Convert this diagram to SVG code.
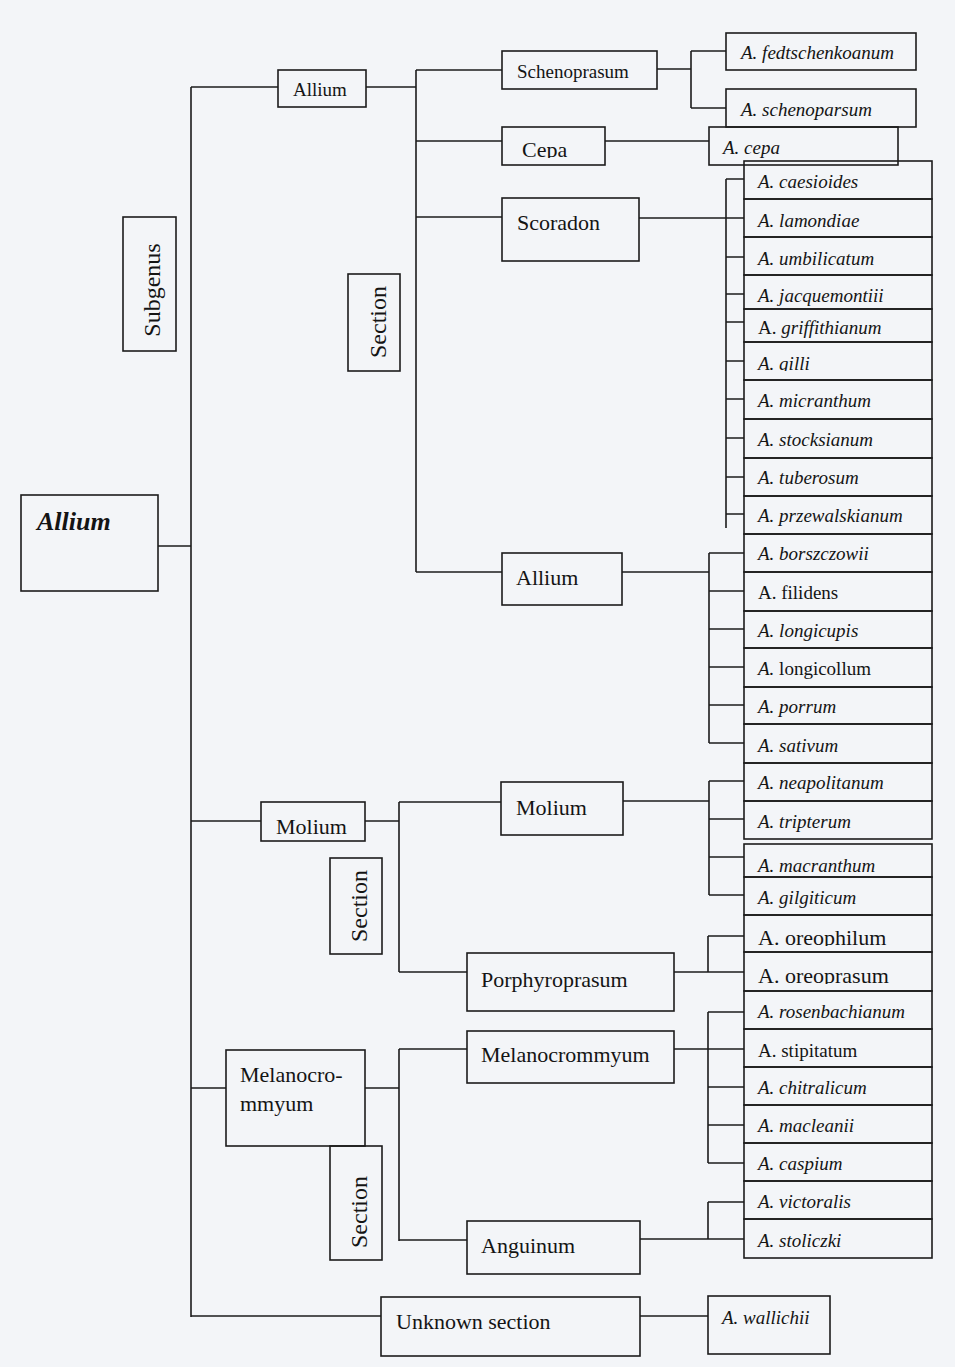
<svg xmlns="http://www.w3.org/2000/svg" width="955" height="1367" viewBox="0 0 955 1367">
<style>
.bg{fill:#f3f5f8}
.box{fill:none;stroke:#1c1c1c;stroke-width:1.6}
.ln{fill:none;stroke:#1c1c1c;stroke-width:1.6}
text{font-family:"Liberation Serif","Times New Roman",serif;fill:#141414}
.sp{font-size:19px;font-style:italic}
.rm{font-style:normal}
.big{font-size:22px}
.sm{font-size:19px}
.vt{font-size:24px;text-anchor:middle}
.root{font-size:26px;font-weight:bold;font-style:italic}
</style>
<defs>
<clipPath id="cutCepa"><rect x="502" y="127" width="103" height="31"/></clipPath>
<clipPath id="cutMolium"><rect x="261" y="802" width="104" height="32"/></clipPath>
<clipPath id="cutGilli"><rect x="744" y="342" width="188" height="29"/></clipPath>
<clipPath id="cutOreo1"><rect x="744" y="915" width="188" height="31"/></clipPath>
<clipPath id="cutOreo2"><rect x="744" y="952" width="188" height="32"/></clipPath>
</defs>
<rect class="bg" x="0" y="0" width="955" height="1367"/>

<g id="connectors">
<path class="ln" d="M158,546H191M191,87V1317M191,87H278M366,87H416M416,70V572M416,70H502M416,141H502M416,217H502M416,572H502"/>
<path class="ln" d="M657,69H691M691,51V108M691,51H726M691,108H726M605,141H709"/>
<path class="ln" d="M639,218H744M726,179V528M726,179H744M726,257H744M726,294H744M726,322H744M726,361H744M726,399H744M726,438H744M726,477H744M726,514H744"/>
<path class="ln" d="M622,572H709M709,553V743M709,553H744M709,591H744M709,629H744M709,667H744M709,705H744M709,743H744"/>
<path class="ln" d="M191,821H261M365,821H399M399,802V972M399,802H501M399,972H467"/>
<path class="ln" d="M623,801H709M709,781V895M709,781H744M709,819H744M709,857H744M709,895H744"/>
<path class="ln" d="M674,972H708M708,936V972M708,936H744M708,972H744"/>
<path class="ln" d="M191,1088H226M365,1088H399M399,1049V1241M399,1049H467M399,1240H467"/>
<path class="ln" d="M674,1049H708M708,1012V1163M708,1012H744M708,1049H744M708,1087H744M708,1125H744M708,1163H744"/>
<path class="ln" d="M640,1239H708M708,1202V1239M708,1202H744M708,1239H744"/>
<path class="ln" d="M191,1316H381M640,1316H708"/>
</g>

<g id="genus-allium"><rect class="box" x="21" y="495" width="137" height="96"/><text class="root" x="37" y="530">Allium</text></g>
<g id="label-subgenus"><rect class="box" x="123" y="217" width="53" height="134"/><text class="vt" transform="translate(160,290) rotate(-90)">Subgenus</text></g>
<g id="subgenus-allium"><rect class="box" x="278" y="70" width="88" height="37"/><text class="sm" x="293" y="96">Allium</text></g>
<g id="label-section-1"><rect class="box" x="348" y="274" width="52" height="97"/><text class="vt" transform="translate(386,322) rotate(-90)">Section</text></g>
<g id="sec-schenoprasum"><rect class="box" x="502" y="51" width="155" height="38"/><text class="sm" x="517" y="78">Schenoprasum</text></g>
<g id="sec-cepa"><rect class="box" x="502" y="127" width="103" height="38"/><text class="big" x="522" y="157" clip-path="url(#cutCepa)">Cepa</text></g>
<g id="sec-scoradon"><rect class="box" x="502" y="198" width="137" height="63"/><text class="big" x="517" y="230">Scoradon</text></g>
<g id="sec-allium"><rect class="box" x="502" y="553" width="120" height="52"/><text class="big" x="516" y="585">Allium</text></g>

<g id="sp-fedtschenkoanum"><rect class="box" x="726" y="33" width="190" height="37"/><text class="sp" x="741" y="59">A. fedtschenkoanum</text></g>
<g id="sp-schenoparsum"><rect class="box" x="726" y="89" width="190" height="38"/><text class="sp" x="741" y="116">A. schenoparsum</text></g>
<g id="sp-cepa"><rect class="box" x="709" y="127" width="189" height="38"/><text class="sp" x="723" y="154">A. cepa</text></g>

<g id="sp-caesioides"><rect class="box" x="744" y="161" width="188" height="38"/><text class="sp" x="758" y="188">A. caesioides</text></g>
<g id="sp-lamondiae"><rect class="box" x="744" y="199" width="188" height="38"/><text class="sp" x="758" y="227">A. lamondiae</text></g>
<g id="sp-umbilicatum"><rect class="box" x="744" y="237" width="188" height="38"/><text class="sp" x="758" y="265">A. umbilicatum</text></g>
<g id="sp-jacquemontiii"><rect class="box" x="744" y="275" width="188" height="34"/><text class="sp" x="758" y="302">A. jacquemontiii</text></g>
<g id="sp-griffithianum"><rect class="box" x="744" y="309" width="188" height="33"/><text class="sp" x="758" y="334"><tspan class="rm">A.</tspan> griffithianum</text></g>
<g id="sp-gilli"><rect class="box" x="744" y="342" width="188" height="38"/><text class="sp" x="758" y="370" clip-path="url(#cutGilli)">A. gilli</text></g>
<g id="sp-micranthum"><rect class="box" x="744" y="380" width="188" height="39"/><text class="sp" x="758" y="407">A. micranthum</text></g>
<g id="sp-stocksianum"><rect class="box" x="744" y="419" width="188" height="39"/><text class="sp" x="758" y="446">A. stocksianum</text></g>
<g id="sp-tuberosum"><rect class="box" x="744" y="458" width="188" height="38"/><text class="sp" x="758" y="484">A. tuberosum</text></g>
<g id="sp-przewalskianum"><rect class="box" x="744" y="496" width="188" height="38"/><text class="sp" x="758" y="522">A. przewalskianum</text></g>
<g id="sp-borszczowii"><rect class="box" x="744" y="534" width="188" height="38"/><text class="sp" x="758" y="560">A. borszczowii</text></g>
<g id="sp-filidens"><rect class="box" x="744" y="572" width="188" height="39"/><text class="sp rm" x="758" y="599">A. filidens</text></g>
<g id="sp-longicupis"><rect class="box" x="744" y="611" width="188" height="37"/><text class="sp" x="758" y="637">A. longicupis</text></g>
<g id="sp-longicollum"><rect class="box" x="744" y="648" width="188" height="39"/><text class="sp" x="758" y="675">A. <tspan class="rm">longicollum</tspan></text></g>
<g id="sp-porrum"><rect class="box" x="744" y="687" width="188" height="37"/><text class="sp" x="758" y="713">A. porrum</text></g>
<g id="sp-sativum"><rect class="box" x="744" y="724" width="188" height="39"/><text class="sp" x="758" y="752">A. sativum</text></g>
<g id="sp-neapolitanum"><rect class="box" x="744" y="763" width="188" height="38"/><text class="sp" x="758" y="789">A. neapolitanum</text></g>
<g id="sp-tripterum"><rect class="box" x="744" y="801" width="188" height="38"/><text class="sp" x="758" y="828">A. tripterum</text></g>
<g id="sp-macranthum"><rect class="box" x="744" y="844" width="188" height="33"/><text class="sp" x="758" y="872">A. macranthum</text></g>
<g id="sp-gilgiticum"><rect class="box" x="744" y="877" width="188" height="38"/><text class="sp" x="758" y="904">A. gilgiticum</text></g>
<g id="sp-oreophilum"><rect class="box" x="744" y="915" width="188" height="37"/><text class="big" x="758" y="945" clip-path="url(#cutOreo1)">A. oreophilum</text></g>
<g id="sp-oreoprasum"><rect class="box" x="744" y="952" width="188" height="39"/><text class="big" x="758" y="983" clip-path="url(#cutOreo2)">A. oreoprasum</text></g>
<g id="sp-rosenbachianum"><rect class="box" x="744" y="991" width="188" height="38"/><text class="sp" x="758" y="1018">A. rosenbachianum</text></g>
<g id="sp-stipitatum"><rect class="box" x="744" y="1029" width="188" height="38"/><text class="sp rm" x="758" y="1057">A. stipitatum</text></g>
<g id="sp-chitralicum"><rect class="box" x="744" y="1067" width="188" height="38"/><text class="sp" x="758" y="1094">A. chitralicum</text></g>
<g id="sp-macleanii"><rect class="box" x="744" y="1105" width="188" height="38"/><text class="sp" x="758" y="1132">A. macleanii</text></g>
<g id="sp-caspium"><rect class="box" x="744" y="1143" width="188" height="38"/><text class="sp" x="758" y="1170">A. caspium</text></g>
<g id="sp-victoralis"><rect class="box" x="744" y="1181" width="188" height="38"/><text class="sp" x="758" y="1208">A. victoralis</text></g>
<g id="sp-stoliczki"><rect class="box" x="744" y="1219" width="188" height="39"/><text class="sp" x="758" y="1247">A. stoliczki</text></g>

<g id="subgenus-molium"><rect class="box" x="261" y="802" width="104" height="39"/><text class="big" x="276" y="834" clip-path="url(#cutMolium)">Molium</text></g>
<g id="label-section-2"><rect class="box" x="330" y="858" width="52" height="96"/><text class="vt" transform="translate(367,906) rotate(-90)">Section</text></g>
<g id="sec-molium"><rect class="box" x="501" y="782" width="122" height="53"/><text class="big" x="516" y="815">Molium</text></g>
<g id="sec-porphyroprasum"><rect class="box" x="467" y="953" width="207" height="58"/><text class="big" x="481" y="987">Porphyroprasum</text></g>

<g id="subgenus-melanocrommyum"><rect class="box" x="226" y="1050" width="139" height="96"/><text class="big" x="240" y="1082">Melanocro-</text><text class="big" x="240" y="1111">mmyum</text></g>
<g id="label-section-3"><rect class="box" x="330" y="1146" width="52" height="114"/><text class="vt" transform="translate(367,1212) rotate(-90)">Section</text></g>
<g id="sec-melanocrommyum"><rect class="box" x="467" y="1031" width="207" height="52"/><text class="big" x="481" y="1062">Melanocrommyum</text></g>
<g id="sec-anguinum"><rect class="box" x="467" y="1221" width="173" height="53"/><text class="big" x="481" y="1253">Anguinum</text></g>
<g id="sec-unknown"><rect class="box" x="381" y="1297" width="259" height="59"/><text class="big" x="396" y="1329">Unknown section</text></g>
<g id="sp-wallichii"><rect class="box" x="708" y="1296" width="122" height="58"/><text class="sp" x="722" y="1324">A. wallichii</text></g>
</svg>
